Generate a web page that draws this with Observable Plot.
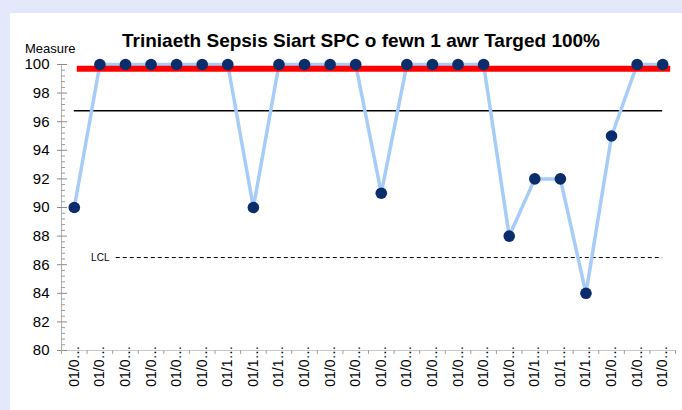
<!DOCTYPE html>
<html>
<head>
<meta charset="utf-8">
<script src="https://cdn.jsdelivr.net/npm/d3@7"></script>
<script src="https://cdn.jsdelivr.net/npm/@observablehq/plot@0.6"></script>
<style>
  html, body { margin: 0; padding: 0; }
  body { width: 682px; height: 410px; overflow: hidden; background: #E3E9FB; position: relative; font-family: "Liberation Sans", Arial, sans-serif; }
  #panel { position: absolute; left: 10px; top: 13px; right: 0; bottom: 0; background: #ffffff; }
  #chart { position: absolute; left: 0; top: 0; }
  #title { position: absolute; left: 0; width: 722px; top: 31px; text-align: center; font-size: 19px; line-height: 19px; font-weight: bold; color: #000; white-space: nowrap; }
  #ylabel { position: absolute; left: 25px; top: 42px; font-size: 13px; line-height: 13px; color: #000; }
</style>
</head>
<body>
<div id="panel"></div>
<div id="chart"></div>
<div id="title">Triniaeth Sepsis Siart SPC o fewn 1 awr Targed 100%</div>
<div id="ylabel">Measure</div>
<script>
// Data
const periods = d3.range(1, 25);
const tickLabels = [
  "01/0…","01/0…","01/0…","01/0…","01/0…","01/0…",
  "01/1…","01/1…","01/1…",
  "01/0…","01/0…","01/0…","01/0…","01/0…","01/0…","01/0…","01/0…","01/0…",
  "01/1…","01/1…","01/1…",
  "01/0…","01/0…","01/0…"
];
const measures = [90, 100, 100, 100, 100, 100, 100, 90, 100, 100, 100, 100, 91, 100, 100, 100, 100, 88, 92, 92, 84, 95, 100, 100];
const target = 99.7;
const mean = 96.77;
const lcl = 86.5;
const yMajorTicks = d3.range(80, 101, 2);
const yMinorTicks = d3.range(0, 51).map(k => 80 + k * 0.4).filter(v => Math.abs((v - 80) / 2 - Math.round((v - 80) / 2)) > 1e-6);
const xBoundaries = d3.range(0, 25).map(k => k + 0.5);

const data = periods.map((p, i) => ({p, v: measures[i]}));
const first = periods[0], last = periods[periods.length - 1];

const chart = Plot.plot({
  width: 682,
  height: 410,
  marginLeft: 61,
  marginRight: 7,
  marginTop: 64,
  marginBottom: 60,
  style: {background: "transparent", fontFamily: "'Liberation Sans', Arial, sans-serif", color: "#000"},
  x: {type: "linear", domain: [0.5, 24.5], label: null},
  y: {domain: [80, 100], label: null},
  marks: [
    // axis lines
    Plot.ruleX([0.5], {stroke: "#b0b0b0", strokeWidth: 1}),
    Plot.ruleY([80], {stroke: "#c8c8c8", strokeWidth: 1}),
    // y major ticks crossing axis
    Plot.axisY(yMajorTicks, {tickSize: 10, dx: 6, stroke: "#8a8a8a", fill: "none"}),
    // y minor ticks inside
    Plot.axisY(yMinorTicks, {tickSize: 4, dx: 4, stroke: "#9a9a9a", fill: "none"}),
    // y tick labels
    Plot.axisY(yMajorTicks, {tickSize: 0, tickPadding: 12, fontSize: 15, fill: "#000"}),
    // x boundary ticks
    Plot.axisX(xBoundaries, {tickSize: 4, stroke: "#a0a0a0", fill: "none"}),
    // x tick labels
    Plot.axisX(periods, {tickSize: 0, tickPadding: -5, tickRotate: -90, fontSize: 14, fill: "#000", tickFormat: p => tickLabels[p - 1]}),
    // control lines
    Plot.ruleY([mean], {x1: first, x2: last, stroke: "#000", strokeWidth: 1.5}),
    Plot.ruleY([lcl], {x1: first, x2: last, insetLeft: 42, stroke: "#000", strokeWidth: 1, strokeDasharray: "4,3"}),
    Plot.text([lcl], {x: first, y: d => d, text: () => "LCL", dx: 26, fontSize: 10, fill: "#000", textAnchor: "middle"}),
    // data
    Plot.line(data, {x: "p", y: "v", stroke: "#A6CCF7", strokeWidth: 3.5}),
    Plot.ruleY([target], {x1: first, x2: last, insetLeft: 3, insetRight: -8, stroke: "#FF0000", strokeWidth: 6}),
    Plot.dot(data, {x: "p", y: "v", r: 5.8, fill: "#0B2D6B", stroke: "none"})
  ]
});
document.getElementById("chart").appendChild(chart);
</script>
</body>
</html>
